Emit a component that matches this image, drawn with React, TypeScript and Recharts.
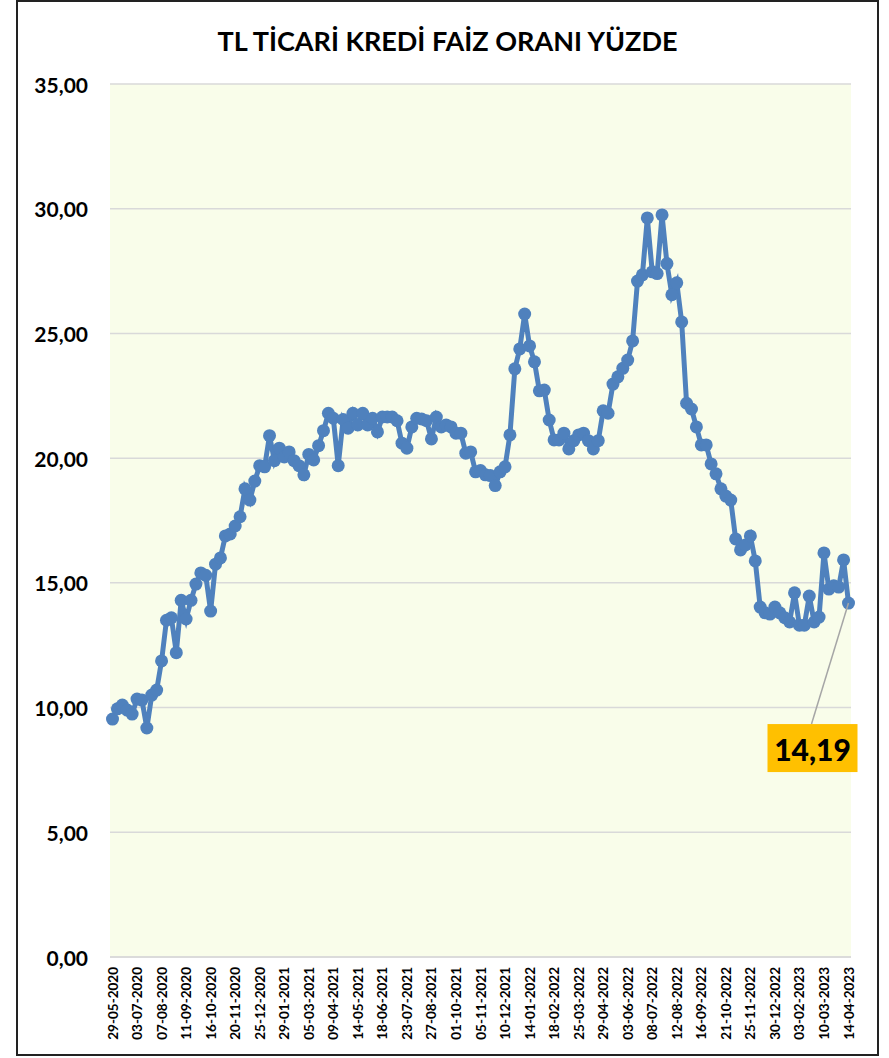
import { LineChart, Line, XAxis, YAxis, CartesianGrid } from 'recharts';

const title = 'TL TİCARİ KREDİ FAİZ ORANI YÜZDE';

// weekly observations, first one is 29-05-2020
const startDate = '2020-05-29';

const rates = [
  9.54, 9.95, 10.1, 9.9, 9.74, 10.34, 10.3, 9.18, 10.5, 10.7,
  11.87, 13.5, 13.6, 12.2, 14.3, 13.55, 14.3, 14.95, 15.4, 15.3,
  13.87, 15.75, 16.0, 16.88, 16.96, 17.28, 17.65, 18.77, 18.32, 19.08,
  19.7, 19.65, 20.9, 19.9, 20.4, 20.05, 20.25, 19.9, 19.7, 19.33,
  20.15, 19.93, 20.5, 21.1, 21.8, 21.6, 19.7, 21.55, 21.2, 21.8,
  21.33, 21.8, 21.33, 21.6, 21.05, 21.65, 21.65, 21.65, 21.5, 20.6,
  20.4, 21.25, 21.6, 21.57, 21.5, 20.77, 21.65, 21.25, 21.33, 21.25,
  21.0, 21.0, 20.2, 20.25, 19.45, 19.5, 19.33, 19.3, 18.9, 19.45,
  19.65, 20.93, 23.58, 24.38, 25.78, 24.5, 23.86, 22.7, 22.73, 21.53,
  20.73, 20.73, 21.0, 20.37, 20.7, 20.93, 21.0, 20.7, 20.37, 20.7,
  21.9, 21.8, 22.97, 23.26, 23.6, 23.93, 24.7, 27.1, 27.35, 29.63,
  27.47, 27.4, 29.75, 27.8, 26.55, 27.03, 25.46, 22.2, 21.97, 21.25,
  20.53, 20.53, 19.77, 19.37, 18.77, 18.48, 18.32, 16.76, 16.32, 16.52,
  16.88, 15.88, 14.03, 13.8, 13.75, 14.03, 13.8, 13.6, 13.43, 14.6,
  13.3, 13.3, 14.47, 13.43, 13.63, 16.2, 14.75, 14.88, 14.83, 15.92,
  14.19,
];

const xTickLabels = [
  '29-05-2020', '03-07-2020', '07-08-2020', '11-09-2020', '16-10-2020', '20-11-2020',
  '25-12-2020', '29-01-2021', '05-03-2021', '09-04-2021', '14-05-2021', '18-06-2021',
  '23-07-2021', '27-08-2021', '01-10-2021', '05-11-2021', '10-12-2021', '14-01-2022',
  '18-02-2022', '25-03-2022', '29-04-2022', '03-06-2022', '08-07-2022', '12-08-2022',
  '16-09-2022', '21-10-2022', '25-11-2022', '30-12-2022', '03-02-2023', '10-03-2023',
  '14-04-2023',
];

const yTicks = [0, 5, 10, 15, 20, 25, 30, 35];

const fmt = (v: number) => v.toFixed(2).replace('.', ',');

function weekLabel(i: number) {
  const d = new Date(startDate + 'T12:00:00Z');
  d.setUTCDate(d.getUTCDate() + i * 7);
  const dd = String(d.getUTCDate()).padStart(2, '0');
  const mm = String(d.getUTCMonth() + 1).padStart(2, '0');
  return `${dd}-${mm}-${d.getUTCFullYear()}`;
}

const data = rates.map((rate, i) => ({ date: weekLabel(i), rate }));

const FONT = 'Lato, "Liberation Sans", sans-serif';

const XTick = ({ x, y, payload }: any) => (
  <text
    transform={`translate(${x},${y + 10}) rotate(-90)`}
    textAnchor="end"
    dominantBaseline="central"
    fontFamily={FONT}
    fontWeight={700}
    fontSize={13.5}
    fill="#000"
  >
    {payload.value}
  </text>
);

const YTick = ({ x, y, payload }: any) => (
  <text
    x={x - 22}
    y={y}
    textAnchor="end"
    dominantBaseline="central"
    fontFamily={FONT}
    fontWeight={700}
    fontSize={21}
    fill="#000"
  >
    {fmt(payload.value)}
  </text>
);

// yellow value box hanging under the last point
const Callout = (props: any) => {
  const { x, y, index, value } = props;
  if (index !== rates.length - 1) return null;
  return (
    <g>
      <line x1={x} y1={y} x2={x - 37} y2={y + 121} stroke="#A6A6A6" strokeWidth={1.5} />
      <rect x={x - 81} y={y + 121} width={90} height={48} fill="#FFC000" />
      <text
        x={x - 36}
        y={y + 146}
        textAnchor="middle"
        dominantBaseline="central"
        fontFamily={FONT}
        fontWeight={900}
        fontSize={30}
        fill="#000"
      >
        {fmt(value)}
      </text>
    </g>
  );
};

export default function App() {
  return (
    <div
      style={{
        position: 'absolute',
        left: 16,
        top: 0,
        width: 863,
        height: 1056,
        boxSizing: 'border-box',
        border: '2px solid #222',
        background: '#fff',
      }}
    >
      <div
        style={{
          position: 'absolute',
          top: 22,
          left: 0,
          width: '100%',
          textAlign: 'center',
          fontFamily: FONT,
          fontWeight: 700,
          fontSize: 27,
          lineHeight: '34px',
          color: '#000',
        }}
      >
        {title}
      </div>
      <div style={{ position: 'absolute', left: 0, top: 0 }}>
        <LineChart width={859} height={1052} data={data} margin={{ top: 82, right: 26, left: 0, bottom: 0 }}>
          <CartesianGrid vertical={false} stroke="#D9D9D9" strokeWidth={1.5} fill="#F9FDEA" />
          <XAxis
            dataKey="date"
            ticks={xTickLabels}
            interval={0}
            tick={<XTick />}
            tickLine={false}
            tickSize={0}
            tickMargin={0}
            axisLine={{ stroke: '#D9D9D9', strokeWidth: 1.5 }}
            height={97}
            padding={{ left: 2.5, right: 2.5 }}
          />
          <YAxis
            domain={[0, 35]}
            ticks={yTicks}
            interval={0}
            tick={<YTick />}
            tickLine={false}
            tickSize={0}
            tickMargin={0}
            axisLine={false}
            width={92}
          />
          <Line
            type="linear"
            dataKey="rate"
            stroke="#4F81BD"
            strokeWidth={5}
            dot={{ r: 6.5, fill: '#4F81BD', stroke: '#4F81BD', strokeWidth: 0 }}
            isAnimationActive={false}
            label={<Callout />}
          />
        </LineChart>
      </div>
    </div>
  );
}
